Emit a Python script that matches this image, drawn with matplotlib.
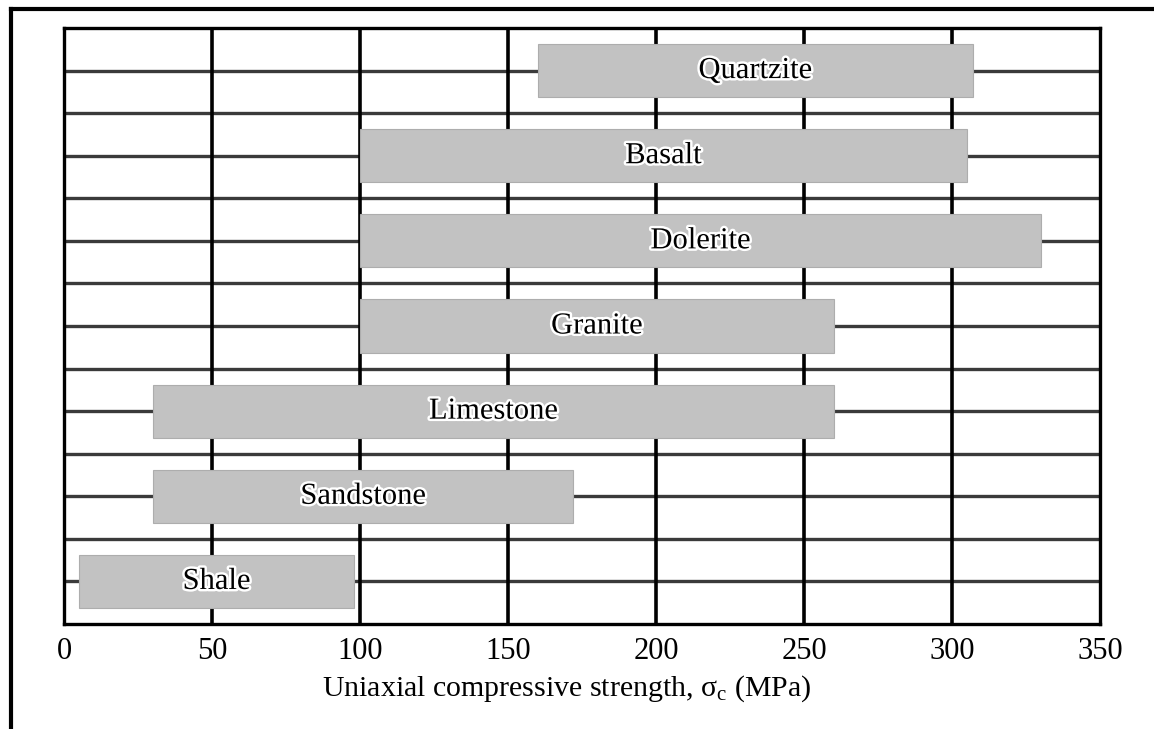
import matplotlib
matplotlib.use("Agg")
import matplotlib.pyplot as plt
import matplotlib.patheffects as pe
from matplotlib.lines import Line2D

rocks = ["Shale", "Sandstone", "Limestone", "Granite", "Dolerite", "Basalt", "Quartzite"]
low = [5, 30, 30, 100, 100, 100, 160]
high = [98, 172, 260, 260, 330, 305, 307]
xticks = [0, 50, 100, 150, 200, 250, 300, 350]

plt.rcParams['font.family'] = ['Liberation Serif', 'DejaVu Serif']
plt.rcParams['mathtext.fontset'] = 'custom'
plt.rcParams['mathtext.rm'] = 'Liberation Serif'
plt.rcParams['mathtext.it'] = 'Liberation Serif:italic'

fig = plt.figure(figsize=(11.54, 7.29), dpi=100)
ax = fig.add_axes([0.0555, 0.1440, 0.8977, 0.8176])

ax.set_xlim(0, 350)
ax.set_ylim(0, 14)

# horizontal grid lines
for yl in range(1, 14):
    ax.axhline(yl, color='#3a3a3a', lw=2.4, zorder=1)
# vertical grid lines
for xv in xticks[1:-1]:
    ax.axvline(xv, color='black', lw=2.6, zorder=1)

ypos = [1 + 2 * i for i in range(len(rocks))]
ax.barh(ypos, [h - l for l, h in zip(low, high)], left=low, height=1.25,
        color='#c2c2c2', edgecolor='#adadad', linewidth=0.8, zorder=2)

for name, l, h, y in zip(rocks, low, high, ypos):
    ax.text((l + h) / 2, y, name, ha='center', va='center', fontsize=22,
            color='black', zorder=3,
            path_effects=[pe.withStroke(linewidth=3.5, foreground='white')])

ax.set_xticks(xticks)
ax.set_xticklabels([str(t) for t in xticks], fontsize=22)
ax.set_yticks([])
ax.tick_params(axis='x', length=0, pad=9)
for s in ax.spines.values():
    s.set_linewidth(2.4)
    s.set_color('black')

ax.set_xlabel(r'Uniaxial compressive strength, $\mathregular{\sigma_c}$ (MPa)',
              fontsize=21.5)
ax.xaxis.set_label_coords(0.4855, -0.083)

# outer frame (top and left)
fig.add_artist(Line2D([11 / 1154, 1.0], [1 - 9 / 729, 1 - 9 / 729],
                      transform=fig.transFigure, color='black', lw=3))
fig.add_artist(Line2D([11 / 1154, 11 / 1154], [0, 1 - 9 / 729],
                      transform=fig.transFigure, color='black', lw=3))

fig.savefig('out.png', dpi=100)
